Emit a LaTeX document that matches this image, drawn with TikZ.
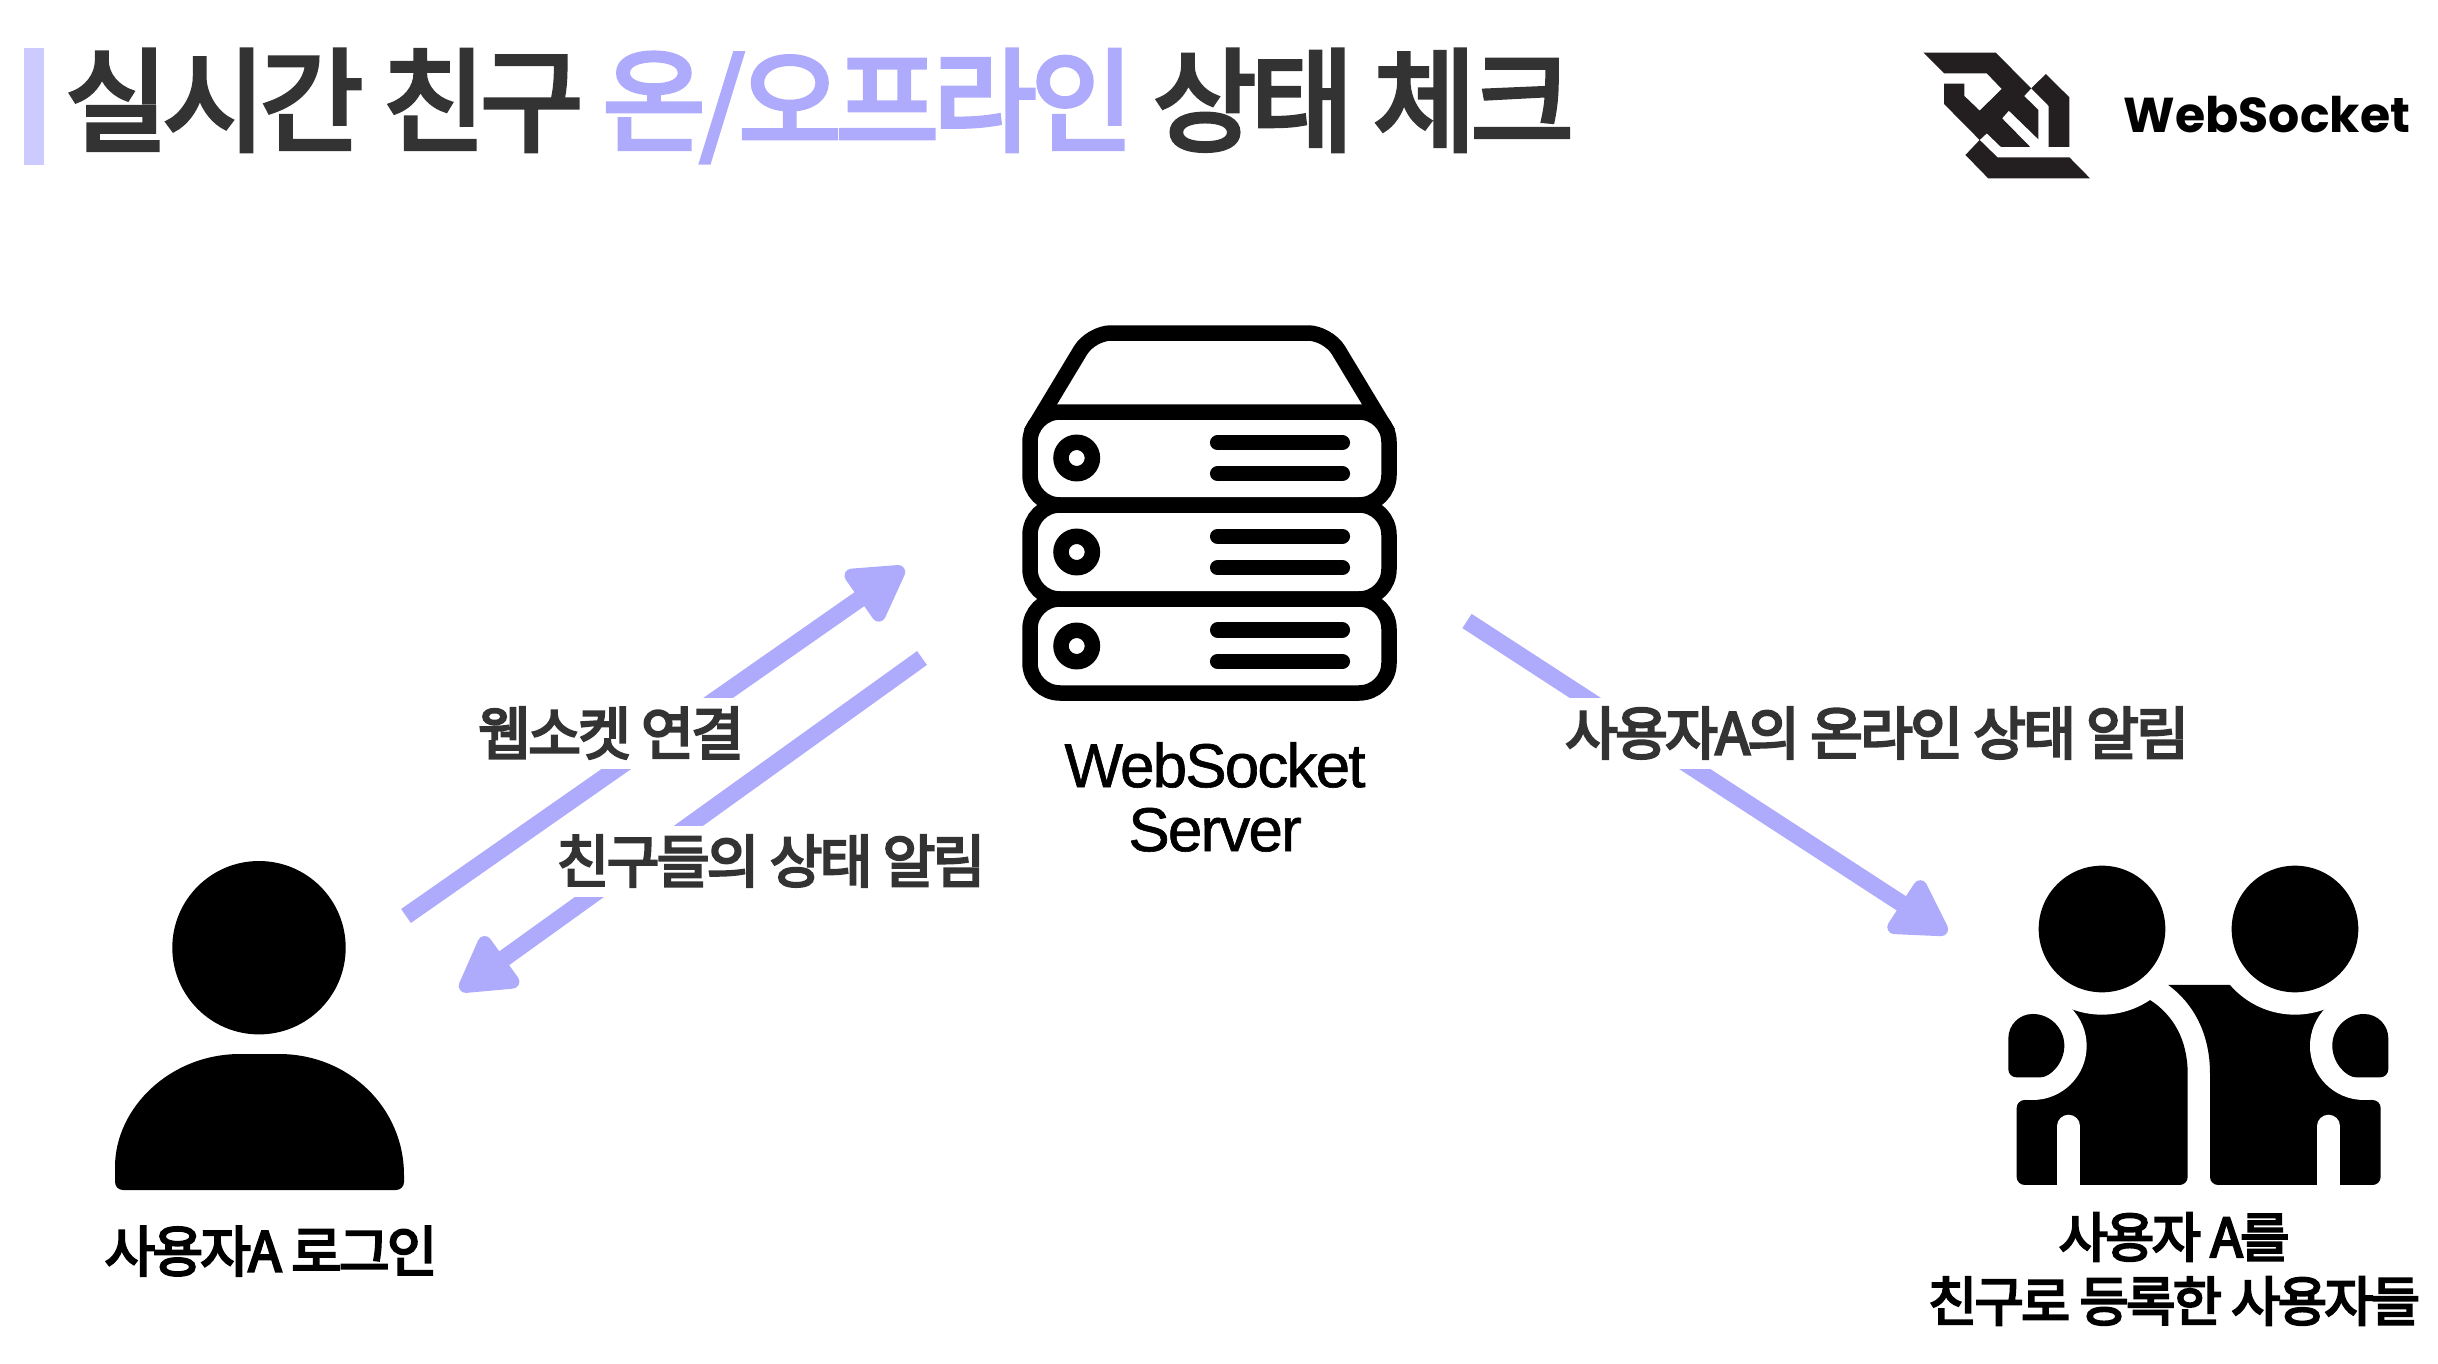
\documentclass[tikz,border=0pt]{standalone}
\usepackage{xcolor}
\usepackage{fontspec}
\usepackage{tikz}
\usetikzlibrary{positioning,arrows.meta}

\newfontfamily\krfont[LetterSpace=-5,FakeBold=4]{Noto Sans CJK KR}
\newfontfamily\tightfont[LetterSpace=-3,FakeBold=1]{Liberation Sans}
\newfontfamily\logofont{Poppins}

\definecolor{lavender}{HTML}{AFABFC}
\definecolor{barcol}{HTML}{CCCAFF}
\definecolor{inkcol}{HTML}{333333}
\definecolor{logocol}{HTML}{231F20}

\begin{document}
\begin{tikzpicture}[
  x=1pt, y=-1pt,
  flowarrow/.style={draw=lavender, line width=17pt, -{Triangle[length=62pt, width=68pt, round, line width=14pt]}},
  flowlabel/.style={fill=white, text=inkcol, inner xsep=2pt, inner ysep=0pt, minimum height=71pt, font=\krfont\fontsize{57.5}{64}\selectfont},
  caption/.style={align=center, inner sep=0pt, font=\krfont\fontsize{55}{64}\selectfont},
  rack/.style={draw=black, fill=white, line width=15.5pt, rounded corners=30pt},
  ledring/.style={draw=black, line width=15.5pt},
  slotline/.style={draw=black, line width=15.5pt, line cap=round},
  gap/.style={draw=white, line width=22.5pt, line cap=round}
]
  \useasboundingbox (0,0) rectangle (2438,1364);

  % title
  \fill[barcol] (24,48) rectangle (44,165);
  \node[anchor=west, inner sep=0pt, text=inkcol, font=\krfont\fontsize{112}{112}\selectfont] (title) at (65,106) {실시간 친구 \textcolor{lavender}{온/오프라인} 상태 체크};

  % websocket logo
  \begin{scope}[shift={(1880,20)}, x=0.3559pt, y=-0.3333pt]
    \fill[logocol] (122,98) -- (325,98) -- (425,205) -- (405,228) -- (445,270) -- (445,358) -- (362,272) -- (343,295) -- (422,381) -- (340,381) -- (300,340) -- (280,360) -- (180,252) -- (180,191) -- (237,191) -- (237,228) -- (280,272) -- (342,207) -- (300,160) -- (180,160) -- cycle;
    \fill[logocol] (425,205) -- (466,162) -- (532,232) -- (532,381) -- (474,381) -- (474,258) -- cycle;
    \fill[logocol] (280,360) -- (330,412) -- (532,412) -- (590,475) -- (304,475) -- (240,405) -- cycle;
  \end{scope}
  \node[inner sep=0pt, font=\logofont\bfseries\fontsize{49}{49}\selectfont] (logotext) at (2267,115) {WebSocket};

  % server
  \draw[draw=black, line width=15.5pt, rounded corners=20pt] (1030.7,433) -- (1091,333) -- (1328,333) -- (1388.3,433);
  \draw[rack] (1030,412) rectangle (1389,505);
  \draw[rack] (1030,505) rectangle (1389,599);
  \draw[rack] (1030,599) rectangle (1389,693);
  \draw[ledring] (1076.7,458) circle[radius=15.7];
  \draw[ledring] (1076.7,552) circle[radius=15.7];
  \draw[ledring] (1076.7,646) circle[radius=15.7];
  \draw[slotline] (1217.7,442.7) -- (1342.3,442.7);
  \draw[slotline] (1217.7,473.7) -- (1342.3,473.7);
  \draw[slotline] (1217.7,536.3) -- (1342.3,536.3);
  \draw[slotline] (1217.7,567.7) -- (1342.3,567.7);
  \draw[slotline] (1217.7,630) -- (1342.3,630);
  \draw[slotline] (1217.7,661.3) -- (1342.3,661.3);
  \node[align=center, inner sep=0pt, font=\tightfont\fontsize{62}{64}\selectfont] (serverlabel) at (1215,797) {WebSocket\\Server};

  % user A
  \fill (259,947.7) circle[radius=86.7];
  \fill (115,1175) .. controls (115,1108) and (170,1054) .. (240,1054) -- (279,1054) .. controls (349,1054) and (404,1108) .. (404,1175) [rounded corners=8pt] -- (404,1190) -- (115,1190) -- cycle;
  \node[caption] (login) at (271,1251) {사용자A 로그인};

  % friends
  \begin{scope}[shift={(1960,840)}, x=0.3333pt, y=-0.3333pt]
    \fill[rounded corners=8pt] (683,700) -- (683,1035) -- (170,1035) -- (170,780) [sharp corners] -- (218,780) -- (218,618) -- (330,505) -- (426,500) -- (570,480) .. controls (640,525) and (683,600) .. (683,700) -- cycle;
    \fill[rounded corners=8pt] (750,700) -- (750,1035) -- (1262,1035) -- (1262,780) [sharp corners] -- (1212,780) -- (1212,618) -- (1097,507) -- (1005,500) -- (810,435) -- (625,435) .. controls (700,490) and (750,580) .. (750,700) -- cycle;
    \fill[white] (426,267) circle[radius=257];
    \fill[white] (1005,267) circle[radius=257];
    \fill[white] (218,618) circle[radius=162];
    \fill[white] (1212,618) circle[radius=162];
    \draw[gap] (326,858) -- (326,1040);
    \draw[gap] (1106,858) -- (1106,1040);
    \fill (426,267) circle[radius=190];
    \fill (1005,267) circle[radius=190];
    \fill (218,712) arc[start angle=-90, end angle=90, radius=31.67pt] arc[start angle=90, end angle=180, radius=24.33pt] [rounded corners=8pt] -- (145,712) -- cycle;
    \fill (1212,712) arc[start angle=-90, end angle=-270, radius=31.67pt] arc[start angle=90, end angle=0, radius=24.33pt] [rounded corners=8pt] -- (1285,712) -- cycle;
  \end{scope}
  \node[caption, font=\krfont\fontsize{53.5}{64}\selectfont] (friends) at (2174,1269) {사용자 A를\\친구로 등록한 사용자들};

  % connectors
  \coordinate (loginout) at (406,916);
  \coordinate (serverin) at (904,568);
  \coordinate (serverback) at (922,658);
  \coordinate (loginin) at (460,990);
  \coordinate (serverout) at (1467,621);
  \coordinate (friendsin) at (1947,933);

  \draw[flowarrow] (loginout) -- (serverin);
  \draw[flowarrow] (serverback) -- (loginin);
  \draw[flowarrow] (serverout) -- (friendsin);

  \node[flowlabel] (connectlabel) at (611,733) {웹소켓 연결};
  \node[flowlabel] (backlabel) at (771,861) {친구들의 상태 알림};
  \node[flowlabel] (onlinelabel) at (1877,733) {사용자A의 온라인 상태 알림};
\end{tikzpicture}
\end{document}
